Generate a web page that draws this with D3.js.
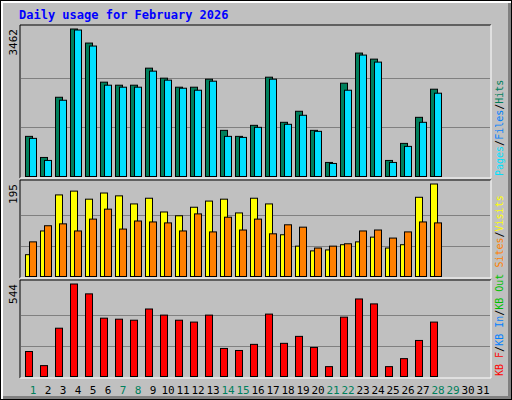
<!DOCTYPE html>
<html>
<head>
<meta charset="UTF-8">
<script src="https://d3js.org/d3.v7.min.js"></script>
<style>
  body { margin: 0; background: #fff; }
  text { font-family: "DejaVu Sans Mono", monospace; }
</style>
</head>
<body>
<svg id="chart" width="512" height="400"></svg>
<script>
const days = d3.range(1, 32);
const weekend = [1, 7, 8, 14, 15, 21, 22, 28, 29];
const hits = [942, 447, 1860, 3462, 3132, 2214, 2143, 2143, 2543, 2308, 2096, 2096, 2284, 1083, 942, 1201, 2331, 1272, 1531, 1083, 330, 2190, 2897, 2755, 377, 777, 1389, 2049];
const pages = [895, 377, 1790, 3438, 3062, 2143, 2096, 2096, 2473, 2261, 2072, 2025, 2237, 942, 918, 1154, 2284, 1225, 1437, 1060, 306, 2025, 2850, 2685, 330, 707, 1272, 1955];
const visits = [46, 96, 172, 180, 163, 176, 170, 153, 165, 136, 128, 146, 159, 163, 134, 165, 153, 88, 64, 54, 56, 67, 73, 83, 60, 67, 167, 195];
const sites = [73, 107, 111, 96, 121, 142, 100, 117, 115, 113, 96, 132, 94, 125, 98, 121, 90, 109, 104, 60, 64, 69, 96, 98, 81, 94, 115, 113];
const kbytes = [147, 64, 284, 544, 486, 343, 337, 331, 397, 361, 331, 320, 361, 165, 153, 189, 367, 195, 236, 171, 58, 349, 456, 427, 58, 105, 212, 320];

const svg = d3.select("#chart");

// frame
svg.append("rect").attr("x", 0).attr("y", 0).attr("width", 512).attr("height", 400).attr("fill", "#000");
svg.append("rect").attr("x", 1).attr("y", 1).attr("width", 510).attr("height", 398).attr("fill", "#fff");
svg.append("rect").attr("x", 3).attr("y", 3).attr("width", 508).attr("height", 396).attr("fill", "#808080");
svg.append("rect").attr("x", 3).attr("y", 3).attr("width", 505).attr("height", 393).attr("fill", "#c0c0c0");

svg.append("text").attr("x", 19).attr("y", 19)
  .attr("fill", "#0000ff").attr("font-weight", "bold").attr("font-size", 12)
  .text("Daily usage for February 2026");

const x = d3.scaleBand().domain(days).range([21, 486]).paddingInner(0);

const panels = [
  { top: 25, bottom: 178, max: 3462, series: [[hits, "#00805c", 4], [pages, "#00e0ff", 8]] },
  { top: 180, bottom: 278, max: 195, series: [[visits, "#ffff00", 4], [sites, "#ff8000", 8]] },
  { top: 280, bottom: 378, max: 544, series: [[kbytes, "#ff0000", 4]] }
];

panels.forEach(p => {
  const y = d3.scaleLinear().domain([0, p.max]).range([p.bottom - 1.5, p.top + 4]);
  // bevelled box
  svg.append("path").attr("d", `M20,${p.bottom}V${p.top}H491`).attr("stroke", "#000").attr("fill", "none");
  svg.append("path").attr("d", `M20,${p.bottom}H491V${p.top}`).attr("stroke", "#fff").attr("fill", "none");
  [1 / 3, 2 / 3].forEach(f => {
    svg.append("line").attr("x1", 21).attr("x2", 490)
      .attr("y1", Math.round(y(p.max * f)) + 0.5).attr("y2", Math.round(y(p.max * f)) + 0.5)
      .attr("stroke", "#808080");
  });
  p.series.forEach(([vals, color, off]) => {
    svg.append("g").selectAll("rect").data(vals).enter().append("rect")
      .attr("x", (d, i) => x(i + 1) + off + 0.5)
      .attr("y", d => y(d))
      .attr("width", 7)
      .attr("height", d => y(0) - y(d))
      .attr("fill", color).attr("stroke", "#000");
  });
  svg.append("text")
    .attr("transform", `translate(17,${p.top + 4}) rotate(-90)`)
    .attr("text-anchor", "end").attr("font-size", 11).attr("fill", "#000")
    .text(p.max);
});

// day labels
svg.append("g").selectAll("text").data(days).enter().append("text")
  .attr("x", d => x(d) + 12).attr("y", 394)
  .attr("text-anchor", "middle").attr("font-size", 11)
  .attr("fill", d => weekend.includes(d) ? "#00805c" : "#000")
  .text(d => d);

// right side legends
function legend(yBottom, parts) {
  const t = svg.append("text")
    .attr("transform", `translate(503,${yBottom}) rotate(-90)`)
    .attr("font-size", 10);
  parts.forEach(([s, c]) => t.append("tspan").attr("fill", c).text(s));
}
legend(176, [["Pages", "#00e0ff"], ["/", "#000"], ["Files", "#0080ff"], ["/", "#000"], ["Hits", "#00805c"]]);
legend(376, [["KB F", "#ff0000"], ["/", "#000"], ["KB In", "#0080ff"], ["/", "#000"], ["KB Out", "#00c000"], [" Sites", "#ff8000"], ["/", "#000"], ["Visits", "#ffff00"]]);
</script>
</body>
</html>
